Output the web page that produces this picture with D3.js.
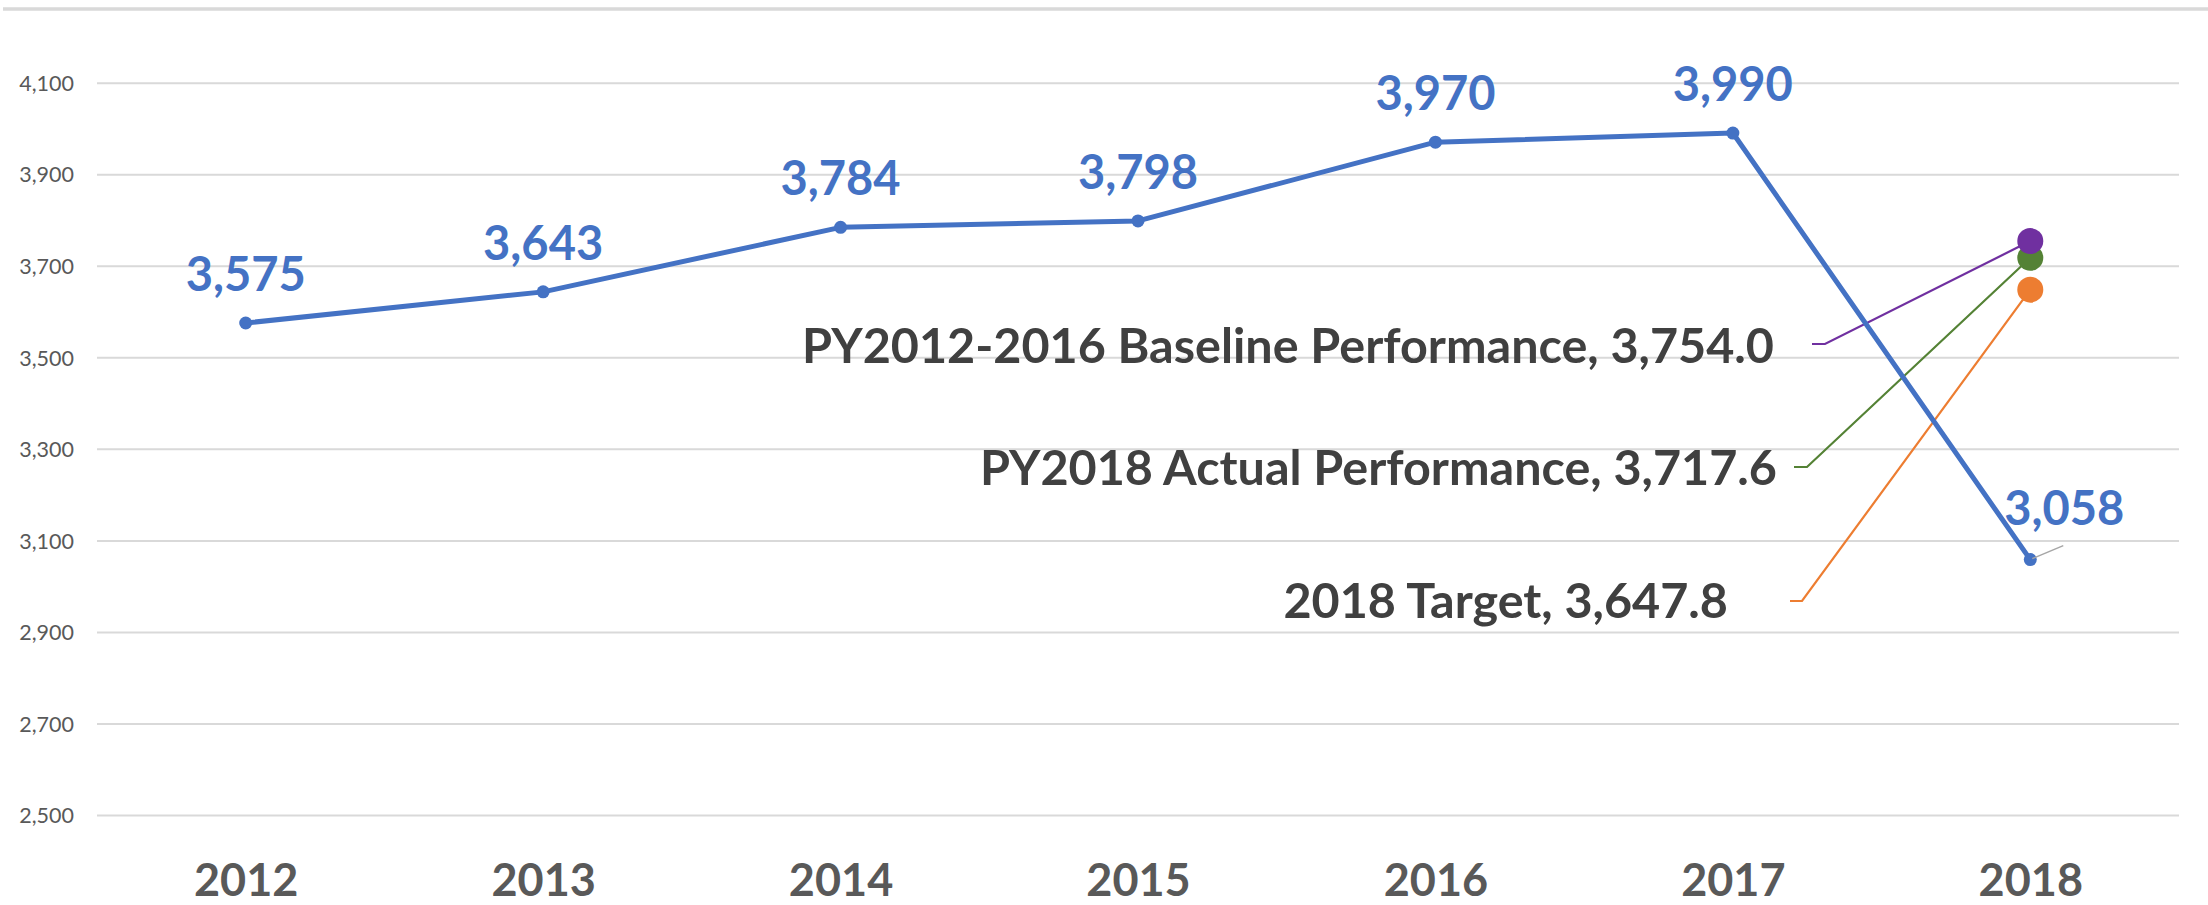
<!DOCTYPE html>
<html>
<head>
<meta charset="utf-8">
<script src="https://cdn.jsdelivr.net/npm/d3@7"></script>
<style>
  html, body { margin: 0; padding: 0; background: #ffffff; }
  svg { display: block; }
  text { font-family: Lato, "Open Sans", sans-serif; }
</style>
</head>
<body>
<svg id="chart" width="2208" height="905"></svg>
<script>
// ---- data ----
const years = ["2012", "2013", "2014", "2015", "2016", "2017", "2018"];
const values = [3575, 3643, 3784, 3798, 3970, 3990, 3058];
const yTicks = [2500, 2700, 2900, 3100, 3300, 3500, 3700, 3900, 4100];
const refNames = ["PY2012-2016 Baseline Performance", "PY2018 Actual Performance", "2018 Target"];
const refValues = [3754.0, 3717.6, 3647.8];
const refYear = "2018";

// ---- layout ----
const W = 2208, H = 905;
const plot = { left: 97, right: 2179, top: 82.7, bottom: 815 };
const svg = d3.select("#chart");

const x = d3.scalePoint().domain(years).range([plot.left, plot.right]).padding(0.5);
const y = d3.scaleLinear().domain([2500, 4100]).range([plot.bottom, plot.top]);

const fmt0 = d3.format(",.0f");
const fmt1 = d3.format(",.1f");

// top frame line
svg.append("line")
  .attr("x1", 3).attr("x2", W).attr("y1", 9).attr("y2", 9)
  .attr("stroke", "#d9d9d9").attr("stroke-width", 3.5);

// gridlines + y axis labels
const yAxis = d3.axisLeft(y).tickValues(yTicks).tickFormat(fmt0)
  .tickSize(-(plot.right - plot.left)).tickPadding(23);
const gy = svg.append("g").attr("transform", `translate(${plot.left},0)`).call(yAxis);
gy.select(".domain").remove();
gy.selectAll(".tick line").attr("stroke", "#d9d9d9").attr("stroke-width", 2);
gy.selectAll(".tick text")
  .attr("fill", "#595959")
  .style("font-size", "21.5px")
  .style("font-family", "Lato, sans-serif")
  .attr("dy", "0.36em");

// x axis labels
const xAxis = d3.axisBottom(x).tickSize(0).tickPadding(0);
const gx = svg.append("g").attr("transform", `translate(0,${plot.bottom})`).call(xAxis);
gx.select(".domain").remove();
gx.selectAll(".tick text")
  .attr("fill", "#595959")
  .attr("y", 81).attr("dy", 0)
  .style("font-size", "45px")
  .style("font-weight", "bold")
  .style("font-family", "Lato, sans-serif");

// reference leader lines & labels
const refColors = ["#7030A0", "#548235", "#ED7D31"];
const refLayout = [
  { textX: 1774, textY: 363, lx0: 1812, lx1: 1825, ly: 344 },
  { textX: 1777, textY: 485, lx0: 1794, lx1: 1807, ly: 467 },
  { textX: 1728, textY: 618, lx0: 1790, lx1: 1802, ly: 601 }
];
const refs = refNames.map((n, i) => ({ name: n, value: refValues[i], color: refColors[i], L: refLayout[i] }));

svg.append("g").selectAll("path").data(refs).join("path")
  .attr("d", d => `M${d.L.lx0},${d.L.ly}L${d.L.lx1},${d.L.ly}L${x(refYear)},${y(d.value)}`)
  .attr("fill", "none").attr("stroke", d => d.color).attr("stroke-width", 2.2);

svg.append("g").selectAll("text").data(refs).join("text")
  .attr("x", d => d.L.textX).attr("y", d => d.L.textY)
  .attr("text-anchor", "end")
  .attr("fill", "#404040")
  .style("font-size", "48.5px").style("font-weight", "bold")
  .text(d => `${d.name}, ${fmt1(d.value)}`);

// main line
const pts = years.map((yr, i) => ({ year: yr, value: values[i] }));
svg.append("path").datum(pts)
  .attr("d", d3.line().x(d => x(d.year)).y(d => y(d.value)))
  .attr("fill", "none").attr("stroke", "#4472C4").attr("stroke-width", 5)
  .attr("stroke-linejoin", "round");

svg.append("g").selectAll("circle").data(pts).join("circle")
  .attr("cx", d => x(d.year)).attr("cy", d => y(d.value)).attr("r", 6.5)
  .attr("fill", "#4472C4");

// reference markers (orange, green, purple on top)
svg.append("g").selectAll("circle").data(refs.slice().reverse()).join("circle")
  .attr("cx", x(refYear)).attr("cy", d => y(d.value)).attr("r", 13)
  .attr("fill", d => d.color);

// data labels
const last = pts[pts.length - 1];
svg.append("line")
  .attr("x1", x(last.year) + 2).attr("y1", y(last.value) - 1)
  .attr("x2", x(last.year) + 33).attr("y2", y(last.value) - 14)
  .attr("stroke", "#a6a6a6").attr("stroke-width", 1.5);

svg.append("g").selectAll("text").data(pts).join("text")
  .attr("x", (d, i) => i === pts.length - 1 ? x(d.year) + 34 : x(d.year))
  .attr("y", (d, i) => i === pts.length - 1 ? y(d.value) - 35 : y(d.value) - 32)
  .attr("text-anchor", "middle")
  .attr("fill", "#4472C4")
  .style("font-size", "47px").style("font-weight", "bold")
  .text(d => fmt0(d.value));
</script>
</body>
</html>
